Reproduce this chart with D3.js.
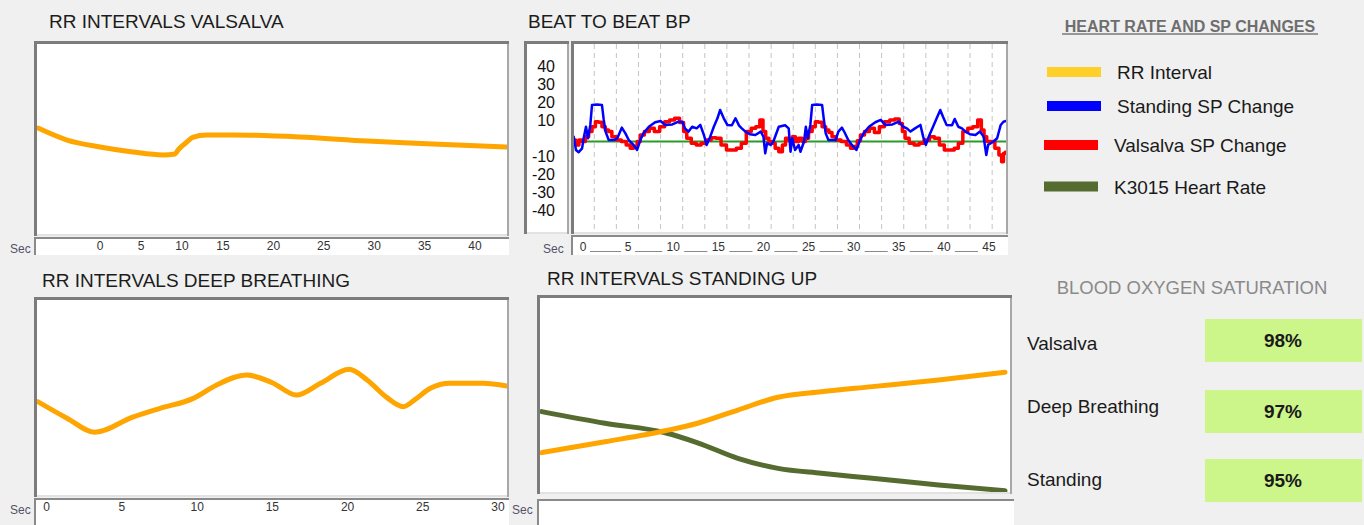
<!DOCTYPE html>
<html>
<head>
<meta charset="utf-8">
<script src="https://d3js.org/d3.v7.min.js"></script>
<style>
  html, body { margin: 0; padding: 0; background: #f0f0f0; }
  svg { display: block; font-family: "Liberation Sans", Arial, sans-serif; }
</style>
</head>
<body>
<div id="chart"></div>
<script>
const WIDTH = 1364;
const HEIGHT = 525;

// ---- data ----
// RR intervals valsalva: seconds / relative RR (0-100 of plot height)
const valsalvaTime = [-7.56, -4.02, 0, 4.02, 7.68, 9.15, 9.51, 10.0, 10.6, 11.3, 13.0, 16.0, 22.6, 29.3, 35.8, 43.2];
const valsalvaRR   = [55.4, 49.2, 45.6, 43.0, 41.5, 42.0, 44.0, 46.1, 48.2, 50.6, 51.8, 51.8, 50.8, 48.7, 47.2, 45.6];
const valsalvaTicks = [0, 5, 10, 15, 20, 25, 30, 35, 40];

// RR intervals deep breathing
const deepTime = [-0.58, 1.35, 3.2, 5.76, 7.53, 9.75, 11.3, 13.3, 15.0, 16.6, 18.2, 20.1, 21.3, 22.6, 23.7, 24.5, 25.5, 26.8, 29.0, 30.6];
const deepRR   = [47.6, 39.3, 32.2, 40.0, 44.3, 49.3, 56.1, 61.1, 57.2, 51.0, 56.9, 64.0, 58.6, 49.8, 45.1, 48.8, 54.4, 56.9, 56.9, 55.6];
const deepTicks = [0, 5, 10, 15, 20, 25, 30];

// RR intervals standing up (RR interval and K3015 heart rate)
const standTime = [0, 4.1, 8, 10.1, 12.7, 15.3, 18.1, 21.4, 25.7, 30];
const standRR   = [20.5, 26.0, 31.6, 35.4, 42.1, 48.6, 51.4, 54.0, 57.4, 61.3];
const standHR   = [41.3, 35.4, 30.6, 25.5, 17.6, 12.5, 10.0, 7.5, 4.1, 1.2];

// Beat to beat BP: [seconds, SP change]
const bpStanding = [
  [-1.03,2.7],[-0.78,-4.7],[-0.48,-6],[-0.1,-3.8],[0.07,1.8],[0.33,8.2],[0.55,1.8],[0.81,9.2],[1.0,20.3],[1.55,20.6],
  [2.1,20.3],[2.3,12],[2.5,5.5],[2.85,0.8],[3.4,0.8],[3.8,1.8],[4.3,7.7],[4.7,4.5],[5.07,0.8],[5.6,-1.9],
  [6.0,-4.7],[6.35,0.8],[6.7,4.5],[7.3,8.2],[8.0,10.7],[8.6,11.4],[9.1,9.2],[9.9,9.5],[10.6,11],[11.0,11],
  [11.3,7.3],[11.7,5.5],[12.1,8.2],[12.6,7.3],[13.0,9.2],[13.4,3.6],[13.7,-1.9],[14.1,2.7],[14.5,8.2],[14.9,12.9],
  [15.2,17.5],[15.6,12.9],[16.0,9.2],[16.5,9],[16.9,12.9],[17.3,8.8],[17.6,7.3],[18.0,5.5],[18.5,4],[19.1,3.6],
  [19.7,5.5],[20.0,2.7],[20.2,-6.6],[20.4,-1],[20.8,-1.9],[21.1,0],[21.7,8.2],[22.4,9],[22.8,7.3],[23.0,-5.7],
  [23.2,1.8],[23.5,-4.7],[23.9,-1.9],[24.1,-5.7],[24.5,0],[24.7,8.2],[24.9,1.8],[25.2,9.2],[25.4,20.3],[25.9,20.6],
  [26.5,20.3],[26.7,12],[26.9,4.5],[27.2,0.8],[28.0,0.8],[28.3,5.5],[28.7,7.7],[29.0,5],[29.4,0.8],[29.8,-1.9],
  [30.3,-4.7],[30.7,0.8],[31.1,4.5],[31.7,8.2],[32.4,10.7],[33.0,12],[33.5,9.2],[34.3,9.5],[35.0,11],[35.5,8.2],
  [35.9,7.3],[36.3,5.5],[36.8,7.3],[37.4,9.2],[37.7,2.7],[38.0,-1.9],[38.4,3.6],[38.8,8.2],[39.2,12.9],[39.6,17.5],
  [39.9,13.8],[40.3,9.2],[40.9,9],[41.2,12.5],[41.6,8.2],[42.0,7.3],[42.4,5.5],[42.9,4],[43.5,3.6],[44.0,5.5],
  [44.4,2.7],[44.7,-7.5],[44.9,-1.9],[45.5,0],[45.9,1.8],[46.3,9.2],[46.6,11],[46.9,11.4]
];
const bpValsalva = [
  [-1.0,0.8],[-0.6,-1.9],[-0.3,0.8],[0.07,0],[0.45,2.7],[0.8,5.5],[1.2,8.2],[1.55,11],[1.9,10.7],[2.3,8.2],
  [2.65,6.4],[3.0,5.5],[3.4,2.7],[4.0,0.8],[4.5,0],[5.07,-1.9],[5.4,-3.8],[5.8,-2.8],[6.2,0],[6.5,3.6],
  [7.1,5.5],[7.6,7.3],[8.2,5.5],[8.8,8.2],[9.3,11],[9.9,12],[10.4,12.9],[11.0,10.5],[11.3,5.5],[11.7,1.8],
  [12.3,-1],[12.8,-1.9],[13.4,-1],[13.9,0.8],[14.5,2.1],[15.0,1.8],[15.6,-1.9],[16.2,-4.7],[16.7,-4.7],[17.3,-3.8],
  [17.8,-1],[18.4,5.5],[18.9,7.3],[19.4,8.2],[19.8,12],[20.1,5.5],[20.4,1.8],[20.8,0],[21.1,-1],[21.5,-3.8],
  [21.9,-5.7],[22.3,-1.9],[22.6,1.8],[23.0,0.8],[23.4,2.7],[23.7,0],[24.1,1.8],[24.5,0],[24.8,1.8],[25.2,5.5],
  [25.6,8.2],[25.9,11],[26.3,10.7],[26.7,8.2],[27.1,6.4],[27.4,5],[27.8,2.7],[28.3,0.8],[28.9,0],[29.5,-1.9],
  [29.8,-3.8],[30.2,-2.8],[30.6,0.4],[30.9,3.6],[31.5,5.5],[32.0,7.3],[32.6,5],[33.1,8.2],[33.7,11],[34.3,12],
  [34.8,12.5],[35.3,10],[35.5,5.5],[35.9,1.8],[36.4,-1],[37.0,-1.9],[37.5,-1],[38.1,0.8],[38.7,2.7],[39.2,1.8],
  [39.8,-1.9],[40.3,-4.7],[40.9,-4.7],[41.4,-3.8],[41.8,-1],[42.4,5.5],[42.9,7.3],[43.5,8.2],[44.0,12],[44.3,6.4],
  [44.6,2.7],[44.9,0],[45.4,0],[45.9,-3.8],[46.3,-7.5],[46.5,-11.2],[46.7,-6.6],[46.9,-6]
];
const bpBaseline = [[-1.5, 0], [47.5, 0]];
const bpYTicks = [40, 30, 20, 10, -10, -20, -30, -40];
const bpXTicks = [0, 5, 10, 15, 20, 25, 30, 35, 40, 45];
const bpGridStart = 1.25, bpGridStep = 2.45, bpGridCount = 19;

// legend + oxygen saturation
const legendNames  = ['RR Interval', 'Standing SP Change', 'Valsalva SP Change', 'K3015 Heart Rate'];
const legendColors = ['#ffd02a', '#0000ff', '#ff0000', '#556b2f'];
const oxygenTests  = ['Valsalva', 'Deep Breathing', 'Standing'];
const oxygenValues = [98, 97, 95];

const ORANGE = '#ffa500';
const OLIVE = '#556b2f';

// ---- svg ----
const SVG = d3.select('#chart')
  .append('svg')
  .attr('width', WIDTH)
  .attr('height', HEIGHT);

SVG.append('rect').attr('width', WIDTH).attr('height', HEIGHT).attr('fill', '#f0f0f0');

// sunken white box: dark top/left, lighter right/bottom
function frame(x0, y0, x1, y1) {
  const g = SVG.append('g');
  g.append('rect').attr('x', x0).attr('y', y0).attr('width', x1 - x0).attr('height', y1 - y0).attr('fill', '#fff');
  g.append('line').attr('x1', x0).attr('x2', x1).attr('y1', y1 - 1).attr('y2', y1 - 1).attr('stroke', '#e2e2e2').attr('stroke-width', 2);
  g.append('line').attr('x1', x1 - 1).attr('x2', x1 - 1).attr('y1', y0).attr('y2', y1).attr('stroke', '#a8a8a8').attr('stroke-width', 2);
  g.append('line').attr('x1', x0).attr('x2', x1).attr('y1', y0 + 1.5).attr('y2', y0 + 1.5).attr('stroke', '#7c7c7c').attr('stroke-width', 3);
  g.append('line').attr('x1', x0 + 1.5).attr('x2', x0 + 1.5).attr('y1', y0).attr('y2', y1).attr('stroke', '#7c7c7c').attr('stroke-width', 3);
  return g;
}

function strip(x0, y0, x1, y1) {
  const g = SVG.append('g');
  g.append('rect').attr('x', x0).attr('y', y0).attr('width', x1 - x0).attr('height', y1 - y0).attr('fill', '#fff');
  g.append('line').attr('x1', x0).attr('x2', x1).attr('y1', y0 + 1).attr('y2', y0 + 1).attr('stroke', '#8a8a8a').attr('stroke-width', 2);
  g.append('line').attr('x1', x0 + 1).attr('x2', x0 + 1).attr('y1', y0).attr('y2', y1).attr('stroke', '#8a8a8a').attr('stroke-width', 2);
  return g;
}

function title(x, y, txt) {
  SVG.append('text').attr('x', x).attr('y', y).text(txt)
    .attr('font-size', 19).attr('fill', '#1c1c1c');
}

function secLabel(x, y) {
  SVG.append('text').attr('x', x).attr('y', y).text('Sec')
    .attr('font-size', 12).attr('fill', '#55506a');
}

function clip(id, x0, y0, x1, y1) {
  SVG.append('clipPath').attr('id', id)
    .append('rect').attr('x', x0).attr('y', y0).attr('width', x1 - x0).attr('height', y1 - y0);
}

function drawLine(data, x, y, color, width, clipId, curve) {
  SVG.append('path')
    .datum(data)
    .attr('clip-path', `url(#${clipId})`)
    .attr('fill', 'none')
    .attr('stroke', color)
    .attr('stroke-width', width)
    .attr('stroke-linejoin', 'round')
    .attr('stroke-linecap', 'round')
    .attr('d', d3.line().curve(curve || d3.curveLinear).x(d => x(d[0])).y(d => y(d[1])));
}

// ---- panel 1: RR intervals valsalva ----
title(49, 28, 'RR INTERVALS VALSALVA');
frame(34, 41, 509, 236);
strip(34, 237, 509, 255);
secLabel(10, 253);
clip('c1', 37, 44, 507, 234);

const x1 = d3.scaleLinear().domain([0, 15, 40]).range([100, 223, 475]);
const y1 = d3.scaleLinear().domain([0, 100]).range([235, 42]);
drawLine(d3.zip(valsalvaTime, valsalvaRR), x1, y1, ORANGE, 5, 'c1', d3.curveMonotoneX);

SVG.append('g').selectAll('text').data(valsalvaTicks).join('text')
  .attr('x', d => x1(d)).attr('y', 250)
  .attr('text-anchor', 'middle').attr('font-size', 12).attr('fill', '#333')
  .text(d => d);

// ---- panel 2: beat to beat BP ----
title(528, 28, 'BEAT TO BEAT BP');
frame(524, 41, 569, 234);
frame(571, 41, 1008, 234);
strip(571, 235, 1008, 255);
secLabel(543, 253);
clip('c2', 574, 44, 1006, 232);

const xBP = d3.scaleLinear().domain([0, 45]).range([583, 989]);
const yBP = d3.scaleLinear().domain([-50, 50]).range([231.5, 51.5]);

const gridTimes = d3.range(bpGridCount).map(i => bpGridStart + i * bpGridStep);
SVG.append('g').selectAll('line').data(gridTimes).join('line')
  .attr('x1', d => xBP(d)).attr('x2', d => xBP(d))
  .attr('y1', 44).attr('y2', 232)
  .attr('stroke', '#c4c4c4').attr('stroke-width', 1).attr('stroke-dasharray', '5,4');

drawLine(bpBaseline, xBP, yBP, '#2a9a2a', 2, 'c2');
drawLine(bpValsalva, xBP, yBP, '#ff0000', 3.5, 'c2', d3.curveStep);
drawLine(bpStanding, xBP, yBP, '#0000ff', 2.5, 'c2');

SVG.append('g').selectAll('text').data(bpYTicks).join('text')
  .attr('x', 555).attr('y', d => yBP(d) - 3).attr('dy', '0.35em')
  .attr('text-anchor', 'end').attr('font-size', 16).attr('fill', '#111')
  .text(d => d);

SVG.append('g').selectAll('text').data(bpXTicks).join('text')
  .attr('x', d => xBP(d)).attr('y', 251)
  .attr('text-anchor', 'middle').attr('font-size', 12).attr('fill', '#333')
  .text(d => d);

// underscores between the x labels
SVG.append('g').selectAll('line').data(bpXTicks.slice(0, -1)).join('line')
  .attr('x1', d => xBP(d) + (d < 10 ? 7 : 11))
  .attr('x2', d => xBP(d + 5) - (d + 5 < 10 ? 7 : 11))
  .attr('y1', 251.5).attr('y2', 251.5)
  .attr('stroke', '#8a8a8a').attr('stroke-width', 1);

// ---- panel 3: RR intervals deep breathing ----
title(42, 287, 'RR INTERVALS DEEP BREATHING');
frame(34, 297, 509, 497);
strip(34, 498, 509, 525);
secLabel(10, 514);
clip('c3', 37, 300, 507, 495);

const x3 = d3.scaleLinear().domain([0, 30]).range([46.7, 498]);
const y3 = d3.scaleLinear().domain([0, 100]).range([496, 298]);
drawLine(d3.zip(deepTime, deepRR), x3, y3, ORANGE, 5, 'c3', d3.curveMonotoneX);

SVG.append('g').selectAll('text').data(deepTicks).join('text')
  .attr('x', d => x3(d)).attr('y', 511)
  .attr('text-anchor', 'middle').attr('font-size', 12).attr('fill', '#333')
  .text(d => d);

// ---- panel 4: RR intervals standing up ----
title(547, 285, 'RR INTERVALS STANDING UP');
frame(537, 295, 1012, 494);
strip(537, 499, 1014, 525);
secLabel(512, 514);
clip('c4', 540, 298, 1010, 492);

const x4 = d3.scaleLinear().domain([0, 30]).range([541.7, 1005]);
const y4 = d3.scaleLinear().domain([0, 100]).range([493, 296]);
drawLine(d3.zip(standTime, standHR), x4, y4, OLIVE, 5, 'c4', d3.curveMonotoneX);
drawLine(d3.zip(standTime, standRR), x4, y4, ORANGE, 5, 'c4', d3.curveMonotoneX);

// ---- legend ----
SVG.append('text').attr('x', 1190).attr('y', 31.5)
  .attr('text-anchor', 'middle').attr('font-size', 16).attr('font-weight', 'bold')
  .attr('fill', '#6e6e6e').text('HEART RATE AND SP CHANGES');
SVG.append('line').attr('x1', 1062).attr('x2', 1318).attr('y1', 34).attr('y2', 34)
  .attr('stroke', '#7a7a7a').attr('stroke-width', 1.5);

const legendY = [72, 106, 145, 186.5];
const legendX = [1047, 1047, 1044, 1044];
const legend = SVG.append('g').selectAll('g').data(legendNames).join('g');
legend.append('rect')
  .attr('x', (d, i) => legendX[i]).attr('y', (d, i) => legendY[i] - 5)
  .attr('width', 54).attr('height', 10)
  .attr('fill', (d, i) => legendColors[i]);
legend.append('text')
  .attr('x', (d, i) => legendX[i] + 70).attr('y', (d, i) => legendY[i] + 7)
  .attr('font-size', 19).attr('fill', '#1a1a1a')
  .text(d => d);

// ---- blood oxygen saturation ----
SVG.append('text').attr('x', 1192).attr('y', 294)
  .attr('text-anchor', 'middle').attr('font-size', 18.5)
  .attr('fill', '#8a8a8a').text('BLOOD OXYGEN SATURATION');

const boxTop = [319, 390, 459];
const labelBase = [350, 413, 486];
const rows = SVG.append('g').selectAll('g').data(oxygenTests).join('g');
rows.append('rect')
  .attr('x', 1205).attr('y', (d, i) => boxTop[i])
  .attr('width', 157).attr('height', 43)
  .attr('fill', '#ccf58a');
rows.append('text')
  .attr('x', 1027).attr('y', (d, i) => labelBase[i])
  .attr('font-size', 19).attr('fill', '#1a1a1a')
  .text(d => d);
rows.append('text')
  .attr('x', 1283).attr('y', (d, i) => boxTop[i] + 28)
  .attr('text-anchor', 'middle').attr('font-size', 19).attr('font-weight', 'bold').attr('fill', '#1a1a1a')
  .text((d, i) => oxygenValues[i] + '%');
</script>
</body>
</html>
